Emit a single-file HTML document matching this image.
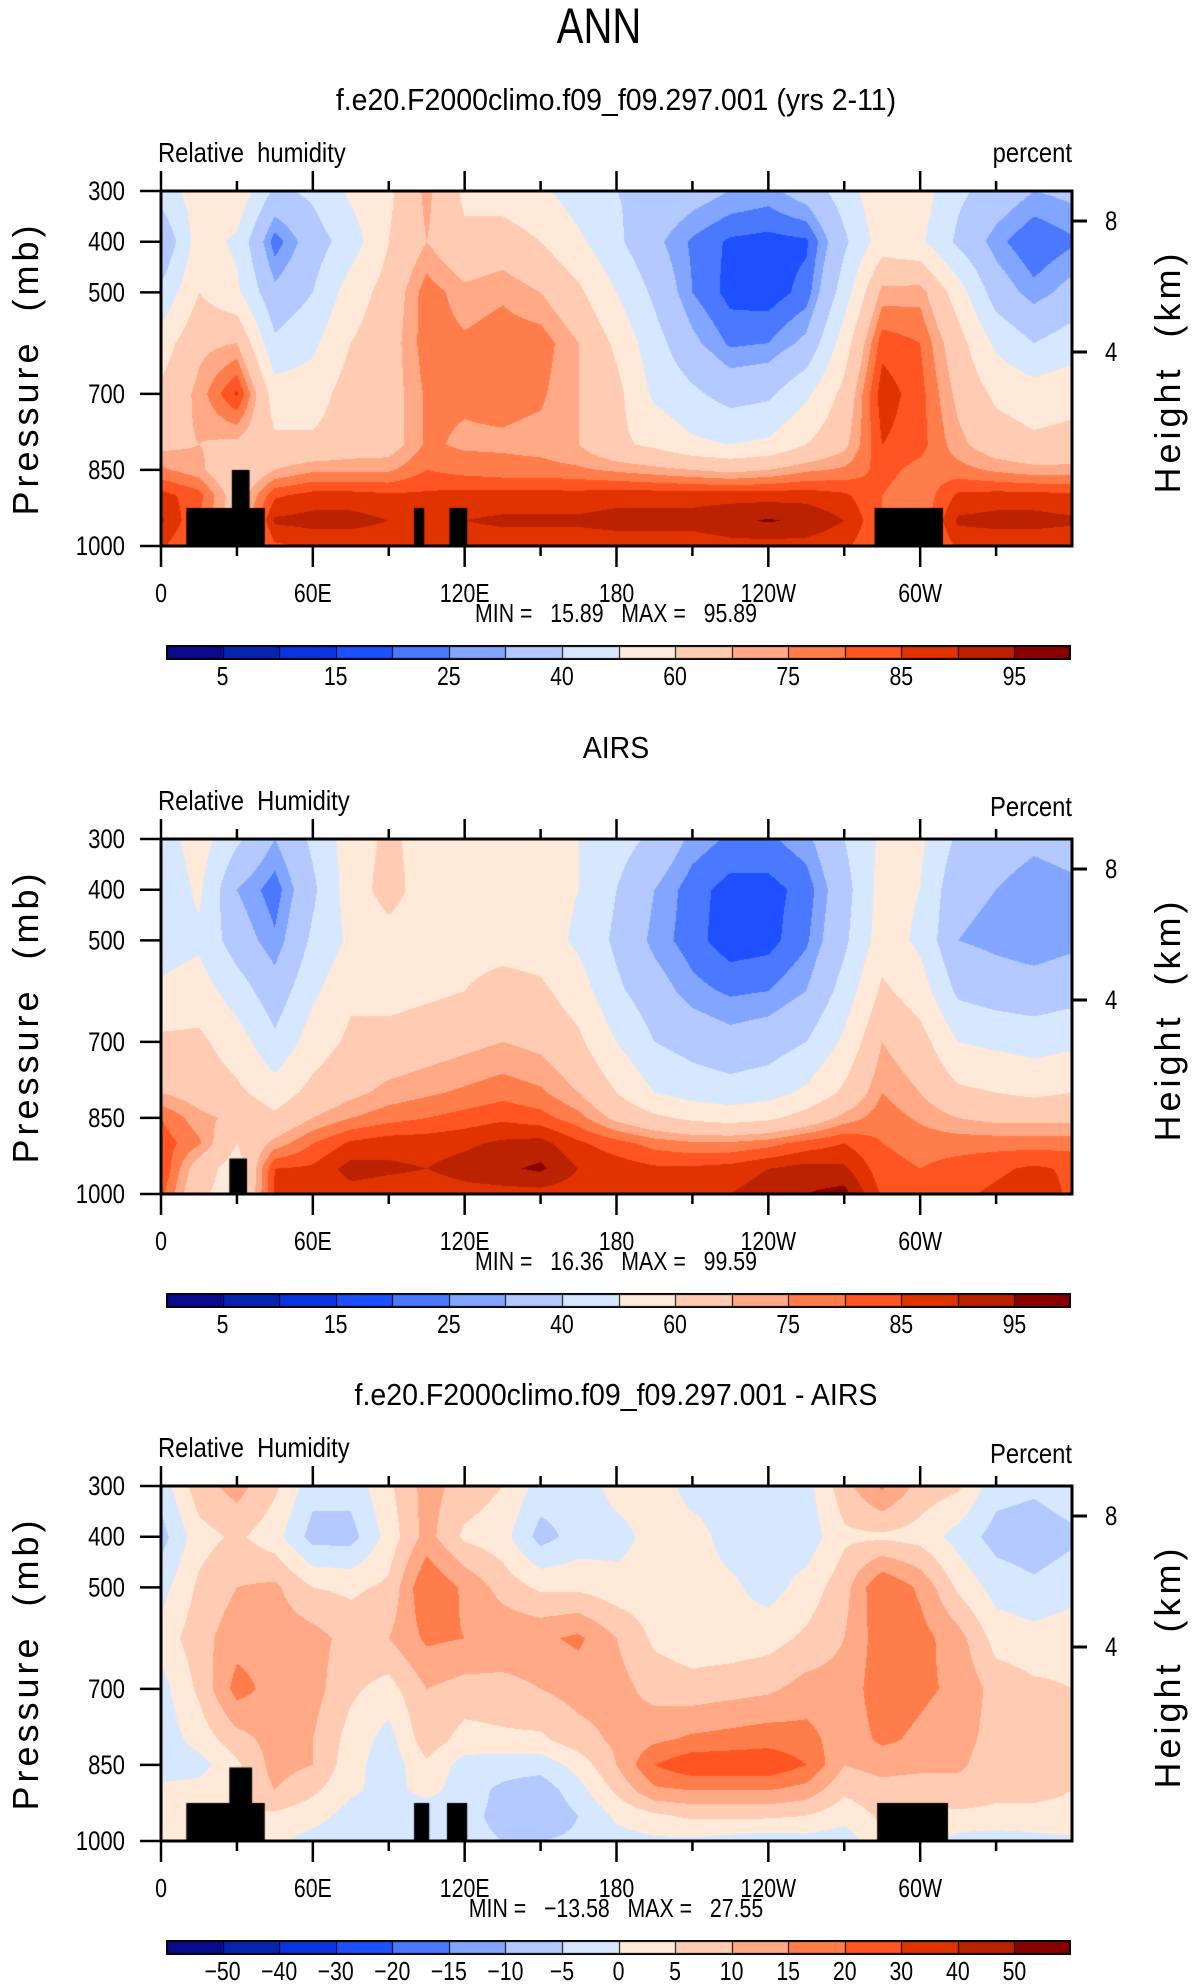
<!DOCTYPE html>
<html><head><meta charset="utf-8">
<style>
html,body{margin:0;padding:0;background:#fff;}
#root{position:relative;width:1196px;height:1987px;overflow:hidden;}
canvas{position:absolute;}
svg{position:absolute;left:0;top:0;}
text{font-family:"Liberation Sans",sans-serif;fill:#000;white-space:pre;}
</style></head>
<body>
<div id="root">
<canvas id="c0" width="911" height="355" style="left:161px;top:191px"></canvas>
<canvas id="c1" width="911" height="355" style="left:161px;top:839px"></canvas>
<canvas id="c2" width="911" height="355" style="left:161px;top:1486px"></canvas>
<canvas id="b0" width="905" height="15" style="left:166px;top:645px"></canvas>
<canvas id="b1" width="905" height="15" style="left:166px;top:1293px"></canvas>
<canvas id="b2" width="905" height="15" style="left:166px;top:1940px"></canvas>
<svg id="ov" width="1196" height="1987" xml:space="preserve">
<text x="599" y="43" text-anchor="middle" font-size="50" transform="translate(599,0) scale(0.8,1) translate(-599,0)">ANN</text>
</svg>
</div>
<script>
const lons=[0,15,30,45,60,75,90,105,120,135,150,165,180,195,210,225,240,255,270,285,300,315,330,345,360];
const pressures=[300,400,500,600,700,800,850,900,950,1000];
const modelCols=[
[45,30,42,55,62,68,76,87,91,86],[55,55,60,68,72,70,72,82,80,78],[58,48,52,70,86,68,60,65,65,65],
[38,22,32,42,55,62,70,84,91,84],[42,35,40,48,55,62,74,87,92,86],[52,45,55,60,65,65,74,87,92,86],
[58,60,64,66,66,66,74,86,90,86],[72,70,78,78,76,76,80,86,88,86],[58,62,72,76,76,74,78,87,90,87],
[55,65,74,78,77,74,77,87,91,87],[52,60,70,78,76,73,77,87,91,87],[45,52,62,70,70,70,76,87,91,87],
[40,42,50,58,63,62,74,88,92,87],[38,32,38,44,48,58,72,88,92,87],[34,24,25,32,42,52,70,88,92,87],
[30,19,18,24,36,50,68,88,94,88],[28,18,17,25,38,52,70,88,95.5,88],[34,19,22,32,48,60,74,88,94,88],
[45,38,45,55,63,68,76,86,90,86],[58,55,72,83,88,85,82,80,80,80],[55,52,73,80,82,82,78,76,76,76],
[42,38,55,64,68,72,77,86,91,86],[36,27,35,48,58,65,74,87,92,86],[30,20,27,40,55,62,72,87,92,86],
[32,24,33,45,57,63,72,86,91,86]];
const airsCols=[
[45,42,45,52,62,70,80,83,85,82],[55,52,48,55,62,66,72,76,65,62],[42,30,35,45,55,62,68,60,55,55],
[30,22,26,34,42,55,62,72,85,86],[42,38,42,48,55,63,70,80,86,86],[55,55,52,58,62,68,75,86,92,88],
[62,64,56,56,64,72,78,88,91,87],[56,55,55,58,66,74,80,88,90,87],[52,56,56,60,68,76,82,89,92,88],
[52,58,56,64,70,78,84,91,94,88],[54,55,55,62,68,76,82,92,96,88],[50,50,48,55,62,70,77,86,90,87],
[44,40,38,42,50,60,68,82,88,87],[38,30,28,34,40,50,62,78,86,87],[28,22,22,27,36,46,58,76,86,88],
[24,18,17,24,33,44,56,76,87,90],[24,18,18,25,35,46,58,78,90,93],[28,22,24,30,40,52,64,82,92,95],
[40,36,38,44,52,62,72,85,91,97],[52,54,55,62,70,75,78,80,82,84],[52,50,48,55,64,70,74,78,80,82],
[38,32,30,38,50,62,70,78,82,84],[35,30,28,35,48,60,68,78,84,86],[32,26,26,34,46,58,68,78,86,88],
[34,28,28,36,48,60,68,78,84,84]];
const diffCols=[
[-3,-7,-2,2,-2,-3,-4,2,3,2],[8,3,6,8,6,2,-2,2,5,5],[12,6,10,13,17,8,4,5,5,5],
[6,2,11,13,13,12,12,10,4,1],[-3,-7,5,12,12,10,10,6,2,-2],[-3,-7,4,8,6,3,2,1,-2,-3],
[4,2,6,10,3,-2,-3,-2,-4,-4],[12,12,20,16,10,8,4,2,-4,-4],[8,4,14,15,8,3,-2,-3,-4,-4],
[5,2,8,14,8,4,-3,-6,-6,-5],[-2,-7,4,14,10,4,-3,-8,-9,-5],[-3,-3,4,16,12,8,2,-2,-5,-4],
[2,-2,2,10,12,11,10,6,1,-2],[3,2,2,4,8,14,20,14,4,-1],[-2,2,2,2,7,16,24,15,6,-1],
[-2,-2,1,2,8,17,24,15,6,-2],[-2,-2,-2,3,9,18,24,15,6,-3],[-2,-3,2,6,12,17,20,13,5,-2],
[8,4,8,10,12,12,10,6,2,-3],[16,4,20,18,18,16,12,8,6,4],[8,3,14,17,16,14,12,6,4,3],
[6,-2,4,12,14,12,11,8,4,-2],[-3,-7,-2,3,8,8,7,6,4,-3],[-4,-8,-4,2,6,7,7,6,4,-2],
[-2,-6,-2,3,5,6,6,5,4,-1]];
const levelsRH=[5,10,15,20,25,30,40,50,60,70,75,80,85,90,95];
const labelsRH=["5","15","25","40","60","75","85","95"];
const levelsDiff=[-50,-40,-30,-20,-15,-10,-5,0,5,10,15,20,30,40,50];
const labelsDiff=["−50","−40","−30","−20","−15","−10","−5","0","5","10","15","20","30","40","50"];
const palette=["#080a8c","#0424b0","#0a34e0","#1e50ff","#4a78ff","#82a5ff","#b3c9ff","#d6e8ff","#ffe9d9","#ffccb3","#ffa987","#ff7d4a","#ff5522","#e03300","#bb2200","#880000"];
const maskModel=[[10,41,925],[28,35,850],[100,104,925],[114,121,925],[282,309,925]];
const maskAirs=[[27,34,930]];
const maskDiff=[[10,41,925],[27,36,855],[100,106,925],[113,121,925],[283,311,925]];
const titles=["f.e20.F2000climo.f09_f09.297.001 (yrs 2-11)","AIRS","f.e20.F2000climo.f09_f09.297.001 - AIRS"];
const leftLabels=["Relative  humidity","Relative  Humidity","Relative  Humidity"];
const rightLabels=["percent","Percent","Percent"];
const minMax=[["15.89","95.89"],["16.36","99.59"],["−13.58","27.55"]];
const pTicks=[300,400,500,700,850,1000];
const lonTickLabels=["0","60E","120E","180","120W","60W"];
const heightTicks=[["8",30],["4",161]];

const W=911,H=355,X0=161;
const tops=[191,839,1486];
function xOf(lon){return X0+lon/360*W;}
function yOf(p,top){return top+(p-300)/700*H;}
function hexRGB(h){return [parseInt(h.substr(1,2),16),parseInt(h.substr(3,2),16),parseInt(h.substr(5,2),16)];}
const rgb=palette.map(hexRGB);
function binOf(v,levels){let b=0;for(const l of levels){if(v>=l)b++;}return b;}
function sample(cols,lon,p){
  let i=Math.min(Math.floor(lon/15),lons.length-2);let fx=(lon-lons[i])/15;
  let j=0;while(j<pressures.length-2&&p>pressures[j+1])j++;
  let fy=(p-pressures[j])/(pressures[j+1]-pressures[j]);fy=Math.max(0,Math.min(1,fy));
  const a=cols[i][j],b=cols[i+1][j],c=cols[i][j+1],d=cols[i+1][j+1];
  return (a*(1-fx)+b*fx)*(1-fy)+(c*(1-fx)+d*fx)*fy;
}
function drawField(id,cols,levels,mask){
  const cv=document.getElementById(id),ctx=cv.getContext('2d');
  const img=ctx.createImageData(W,H);
  for(let py=0;py<H;py++){const p=300+(py+0.5)/H*700;
    for(let px=0;px<W;px++){const lon=(px+0.5)/W*360;
      const c=rgb[binOf(sample(cols,lon,p),levels)];const k=(py*W+px)*4;
      img.data[k]=c[0];img.data[k+1]=c[1];img.data[k+2]=c[2];img.data[k+3]=255;}}
  ctx.putImageData(img,0,0);
  ctx.fillStyle="#000";
  for(const m of mask){const x0=m[0]/360*W,x1=m[1]/360*W,y0=(m[2]-300)/700*H;ctx.fillRect(x0,y0,x1-x0,H-y0);}
}
function drawBar(id){
  const cv=document.getElementById(id),ctx=cv.getContext('2d');const bw=905/palette.length;
  palette.forEach((c,i)=>{ctx.fillStyle=c;ctx.fillRect(i*bw,0,bw+1,15);});
  ctx.strokeStyle="#000";ctx.lineWidth=1;
  for(let i=1;i<palette.length;i++){ctx.beginPath();ctx.moveTo(Math.round(i*bw)+0.5,0);ctx.lineTo(Math.round(i*bw)+0.5,15);ctx.stroke();}
  ctx.lineWidth=2;ctx.strokeRect(1,1,903,13);
}
drawField('c0',modelCols,levelsRH,maskModel);
drawField('c1',airsCols,levelsRH,maskAirs);
drawField('c2',diffCols,levelsDiff,maskDiff);
drawBar('b0');drawBar('b1');drawBar('b2');

const NS="http://www.w3.org/2000/svg",svg=document.getElementById('ov');
function line(x1,y1,x2,y2,w){const e=document.createElementNS(NS,'line');e.setAttribute('x1',x1);e.setAttribute('y1',y1);e.setAttribute('x2',x2);e.setAttribute('y2',y2);e.setAttribute('stroke','#000');e.setAttribute('stroke-width',w);svg.appendChild(e);return e;}
function txt(s,x,y,size,anchor,sx){const e=document.createElementNS(NS,'text');e.textContent=s;e.setAttribute('x',x);e.setAttribute('y',y);e.setAttribute('font-size',size);e.setAttribute('text-anchor',anchor);if(sx)e.setAttribute('transform','translate('+x+',0) scale('+sx+',1) translate('+(-x)+',0)');svg.appendChild(e);return e;}

tops.forEach((top,k)=>{
  let e;
  e=txt(titles[k],616,top-81,31,'middle',0.92);
  
  
  e=txt(leftLabels[k],158,top-29,28,'start',0.85);
  
  
  e=txt(rightLabels[k],1072,k===0?top-29:top-23,28,'end',0.85);
  
  
  const fr=document.createElementNS(NS,'rect');fr.setAttribute('x',X0);fr.setAttribute('y',top);fr.setAttribute('width',W);fr.setAttribute('height',H);fr.setAttribute('fill','none');fr.setAttribute('stroke','#000');fr.setAttribute('stroke-width',3);svg.appendChild(fr);
  
  
  for(let lon=0;lon<=330;lon+=30){const major=lon%60===0;const x=xOf(lon);
    e=line(x,top,x,top-(major?20:10),2.5);
    
    
    e=line(x,top+H,x,top+H+(major?21:10),2.5);
    
    }
  lonTickLabels.forEach((s,i)=>{e=txt(s,xOf(i*60),top+H+56,26,'middle',0.82);
    
    });
  pTicks.forEach(p=>{const y=yOf(p,top);e=line(X0-21,y,X0,y,2.5);
    
    
    e=txt(String(p),125,y+9,27,'end',0.82);
    
    });
  heightTicks.forEach(h=>{const y=top+h[1];e=line(X0+W,y,X0+W+15,y,3);
    
    
    e=txt(h[0],1105,y+9,27,'start',0.82);
    
    });
  const cy=top+H/2;
  e=txt('Pressure  (mb)',0,0,36,'middle');e.setAttribute('transform','translate(38,'+cy+') rotate(-90)');e.setAttribute('letter-spacing','4');
  
  
  e=txt('Height  (km)',0,0,36,'middle');e.setAttribute('transform','translate(1180,'+(cy+3)+') rotate(-90)');e.setAttribute('letter-spacing','4');
  
  
  e=txt('MIN =   '+minMax[k][0]+'   MAX =   '+minMax[k][1],616,top+H+76,26,'middle',0.82);
  
  
  const labs=k===2?labelsDiff:labelsRH,step=k===2?1:2,bw=905/palette.length;
  labs.forEach((s,i)=>{const idx=i*step;e=txt(s,166+(idx+1)*bw,top+H+139,26,'middle',0.82);
    
    });
});
</script>
</body></html>
